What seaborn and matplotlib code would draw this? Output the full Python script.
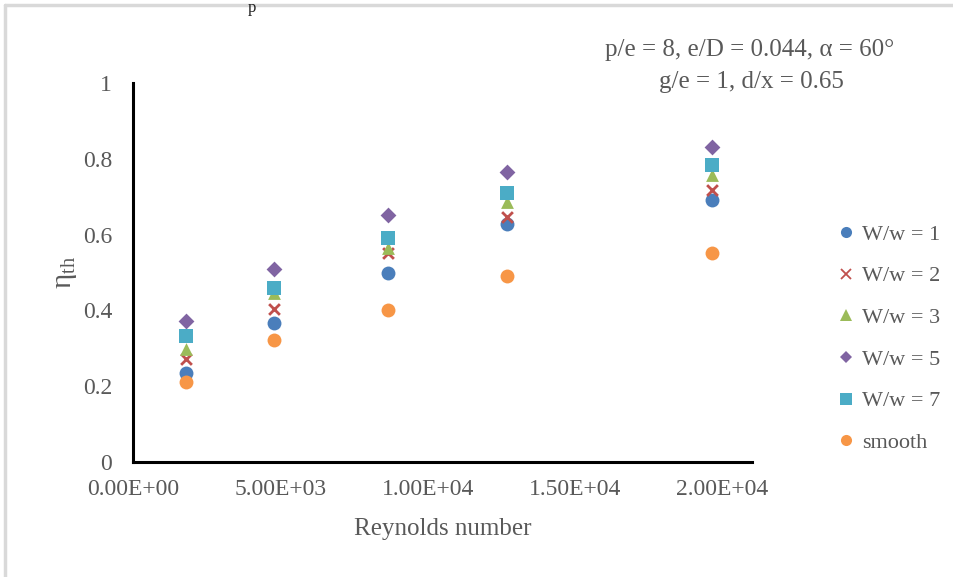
import matplotlib
matplotlib.use("Agg")
import matplotlib.pyplot as plt
import seaborn as sns
import pandas as pd
from matplotlib.lines import Line2D

# ---- data ----
reynolds = [1800, 4800, 8650, 12700, 19650]
series_names = ["W/w = 1", "W/w = 2", "W/w = 3", "W/w = 5", "W/w = 7", "smooth"]
eta_w1 = [0.234, 0.366, 0.499, 0.627, 0.690]
eta_w2 = [0.271, 0.403, 0.551, 0.647, 0.718]
eta_w3 = [0.297, 0.446, 0.565, 0.687, 0.757]
eta_w5 = [0.373, 0.509, 0.652, 0.764, 0.832]
eta_w7 = [0.332, 0.459, 0.591, 0.709, 0.784]
eta_smooth = [0.212, 0.322, 0.401, 0.492, 0.552]
x_ticks = [0, 5000, 10000, 15000, 20000]
x_tick_labels = ["0.00E+00", "5.00E+03", "1.00E+04", "1.50E+04", "2.00E+04"]
y_ticks = [0, 0.2, 0.4, 0.6, 0.8, 1.0]
y_tick_labels = ["0", "0.2", "0.4", "0.6", "0.8", "1"]

all_vals = [eta_w1, eta_w2, eta_w3, eta_w5, eta_w7, eta_smooth]
rows = []
for name, vals in zip(series_names, all_vals):
    for r, v in zip(reynolds, vals):
        rows.append({"Re": r, "eta": v, "series": name})
df = pd.DataFrame(rows)

colors = ["#4A7EBB", "#C0504D", "#9BBB59", "#8064A2", "#4BACC6", "#F79646"]
markers = ["o", "X", "^", "D", "s", "o"]

sns.set_theme(style="white")
plt.rcParams["font.family"] = ["Liberation Serif", "DejaVu Serif"]
plt.rcParams["mathtext.fontset"] = "custom"
plt.rcParams["mathtext.rm"] = "Liberation Serif"
plt.rcParams["mathtext.it"] = "Liberation Serif:italic"

TXT = "#595959"
FS = 17
fig = plt.figure(figsize=(9.54, 5.77), dpi=100)
ax = fig.add_axes([133/954, 1-462/577, (752-133)/954, (462-83)/577])

for name, vals, c, m in zip(series_names, all_vals, colors, markers):
    sub = df[df["series"] == name]
    if m == "X":
        sns.scatterplot(data=sub, x="Re", y="eta", ax=ax, color=c, marker="x",
                        s=60, linewidth=2.0, legend=False, zorder=3)
    else:
        size = {"o": 100, "^": 85, "D": 65, "s": 100}[m]
        sns.scatterplot(data=sub, x="Re", y="eta", ax=ax, color=c, marker=m,
                        s=size, linewidth=0, legend=False, zorder=3)

ax.set_xlim(0, 21000)
ax.set_ylim(0, 1)
ax.set_xticks(x_ticks)
ax.set_xticklabels(x_tick_labels)
ax.set_yticks(y_ticks)
ax.set_yticklabels(y_tick_labels)
ax.tick_params(axis="both", length=0, labelsize=FS, labelcolor=TXT)
ax.tick_params(axis="x", pad=12)
ax.tick_params(axis="y", pad=15)
for s in ["top", "right"]:
    ax.spines[s].set_visible(False)
for s in ["left", "bottom"]:
    ax.spines[s].set_color("black")
    ax.spines[s].set_linewidth(2.2)
ax.grid(False)

ax.set_xlabel("Reynolds number", fontsize=FS + 1, color=TXT, labelpad=13)
ax.set_ylabel(r"$\mathrm{\eta_{th}}$", fontsize=21, color=TXT, labelpad=3)

fig.text(750/954, 1-50/577, "p/e = 8, e/D = 0.044, α = 60°", ha="center", va="center",
         fontsize=FS + 1, color=TXT)
fig.text(751/954, 1-82/577, "g/e = 1, d/x = 0.65", ha="center", va="center",
         fontsize=FS + 1, color=TXT)

handles = []
for name, c, m in zip(series_names, colors, markers):
    if m == "X":
        h = Line2D([], [], linestyle="none", marker="x", color=c, markersize=7, markeredgewidth=1.3)
    else:
        ms = {"o": 8, "^": 8, "D": 6.5, "s": 8}[m]
        h = Line2D([], [], linestyle="none", marker=m, color=c, markersize=ms, markeredgewidth=0)
    handles.append(h)
leg = fig.legend(handles, series_names, loc="upper left",
                 bbox_to_anchor=(828/954, 1-213/577), frameon=False,
                 fontsize=16, handlelength=0.6, handletextpad=0.45,
                 labelspacing=0.95, borderpad=0)
for t in leg.get_texts():
    t.set_color(TXT)

# outer chart border (top and left)
fig.add_artist(Line2D([5/954, 1.0], [1-5/577, 1-5/577], transform=fig.transFigure,
                      color="#D9D9D9", linewidth=2.5))
fig.add_artist(Line2D([5/954, 5/954], [0, 1-5/577], transform=fig.transFigure,
                      color="#D9D9D9", linewidth=2.5))
fig.text(252/954, 1.0, "p", ha="center", va="top", fontsize=12, color="#222222")

fig.savefig("out.png", dpi=100, facecolor="white")
